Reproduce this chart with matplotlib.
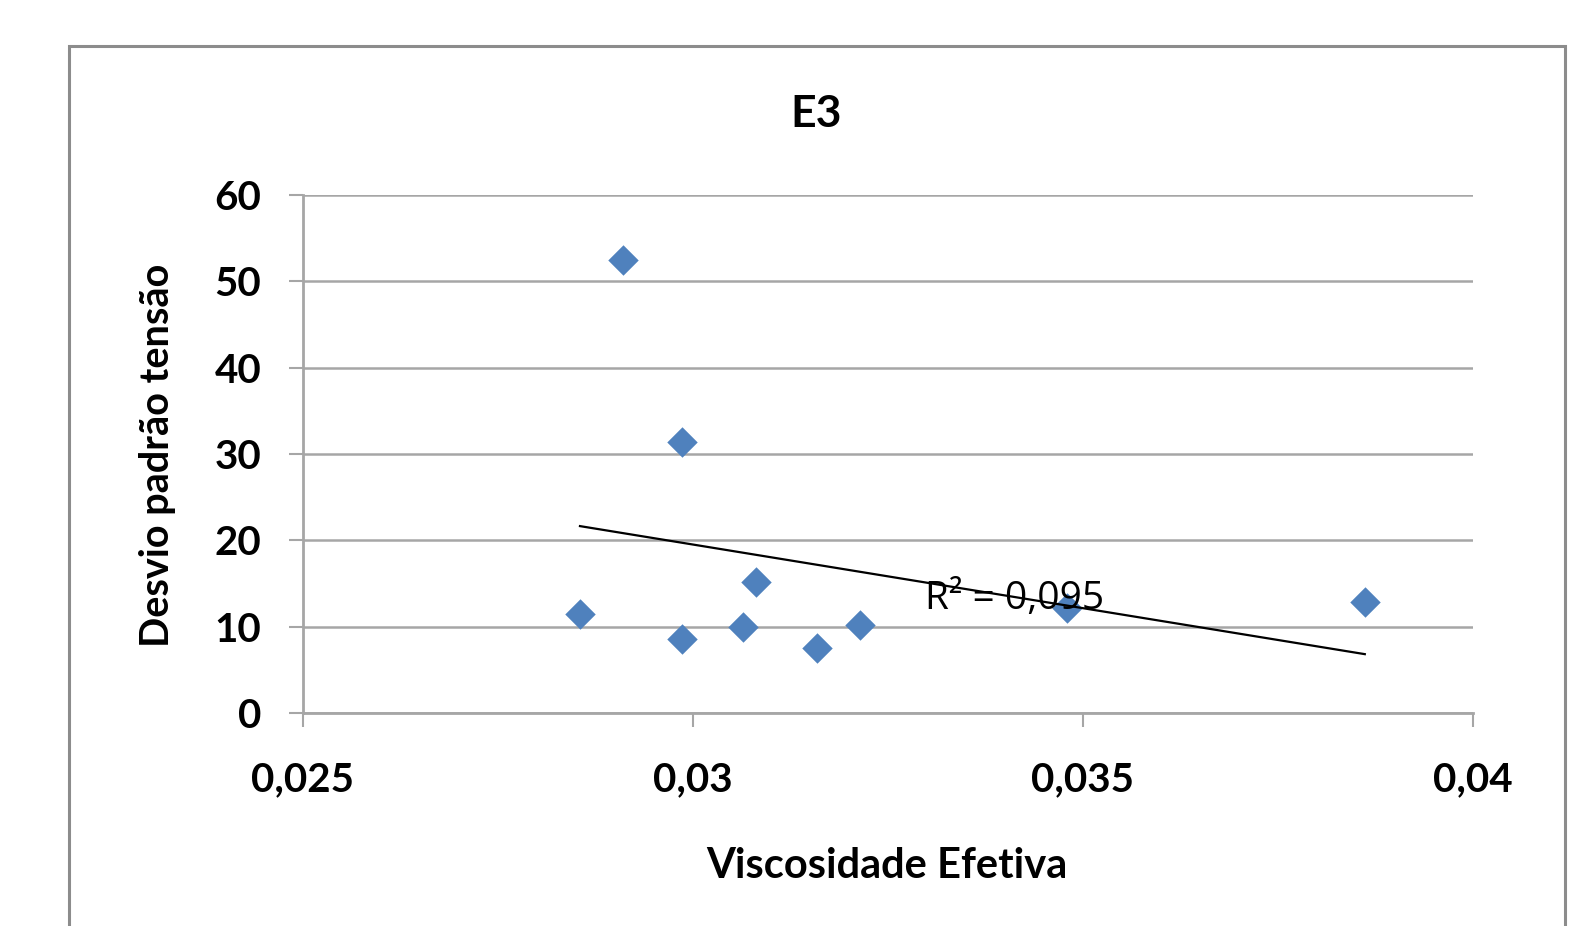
import matplotlib
matplotlib.use('Agg')
import matplotlib.pyplot as plt
import numpy as np
from matplotlib.patches import Rectangle
from matplotlib.ticker import FixedLocator, FixedFormatter

# ---- data ----
viscosidade = [0.029106, 0.029862, 0.028551, 0.029862, 0.030636,
               0.030807, 0.031585, 0.032140, 0.034789, 0.038613]
desvio = [52.47, 31.36, 11.47, 8.54, 9.93, 15.21, 7.49, 10.19, 12.13, 12.82]

x_ticks = [0.025, 0.03, 0.035, 0.04]
x_tick_labels = ["0,025", "0,03", "0,035", "0,04"]
y_ticks = [0, 10, 20, 30, 40, 50, 60]
y_tick_labels = ["0", "10", "20", "30", "40", "50", "60"]

title = "E3"
x_label = "Viscosidade Efetiva"
y_label = "Desvio padrão tensão"
r2_text = "R² = 0,095"

# ---- figure ----
W, H = 1592, 926
fig = plt.figure(figsize=(W / 100, H / 100), dpi=100)
fig.patch.set_facecolor('white')

font = 'Lato'
blue = '#4F81BD'
grid_c = '#A6A6A6'

# outer chart border (bottom cut off)
fig.patches.append(Rectangle((69 / W, -0.05), (1565 - 69) / W, (H - 46) / H + 0.05,
                             transform=fig.transFigure, fill=False,
                             edgecolor='#8C8C8C', linewidth=2.2, zorder=0))

ax = fig.add_axes([303 / W, 1 - 713 / H, (1473 - 303) / W, (713 - 195) / H])
ax.set_xlim(0.025, 0.04)
ax.set_ylim(0, 60)

ax.scatter(viscosidade, desvio, marker='D', s=15.5 ** 2, color=blue,
           linewidths=0, zorder=3, clip_on=False)

# linear trendline
xs = np.array(viscosidade)
ys = np.array(desvio)
slope, intercept = np.polyfit(xs, ys, 1)
xl = np.array([xs.min(), xs.max()])
ax.plot(xl, slope * xl + intercept, color='black', linewidth=1.6, zorder=4)

ax.text(0.03297, 12.05, r2_text, fontsize=28, family='Open Sans',
        ha='left', va='baseline', color='black', zorder=5)

# axes styling
for s in ['top', 'right']:
    ax.spines[s].set_visible(False)
for s in ['left', 'bottom']:
    ax.spines[s].set_color(grid_c)
    ax.spines[s].set_linewidth(2)

ax.xaxis.set_major_locator(FixedLocator(x_ticks))
ax.xaxis.set_major_formatter(FixedFormatter(x_tick_labels))
ax.yaxis.set_major_locator(FixedLocator(y_ticks))
ax.yaxis.set_major_formatter(FixedFormatter(y_tick_labels))

ax.yaxis.grid(True, color=grid_c, linewidth=1.8)
ax.set_axisbelow(True)

ax.tick_params(axis='both', direction='out', length=10, width=1.5, color=grid_c)
ax.tick_params(axis='y', pad=20)
ax.tick_params(axis='x', pad=25)
for lab in ax.get_xticklabels() + ax.get_yticklabels():
    lab.set_fontfamily(font)
    lab.set_fontweight('bold')
    lab.set_fontsize(29)

fig.text(816 / W, 1 - 114 / H, title, fontsize=32, fontweight='bold',
         family=font, ha='center', va='center')
fig.text(887 / W, 1 - 866 / H, x_label, fontsize=30, fontweight='bold',
         family=font, ha='center', va='center')
fig.text(157 / W, 1 - 455 / H, y_label, fontsize=28.5, fontweight='bold',
         family=font, ha='center', va='center', rotation=90)

fig.savefig('out.png', dpi=100, facecolor='white')
